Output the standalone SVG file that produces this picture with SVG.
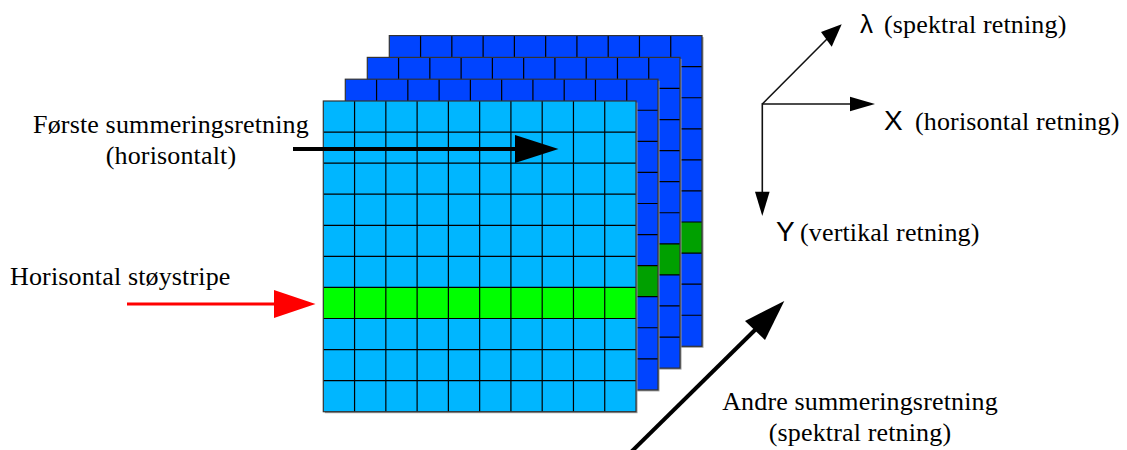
<svg xmlns="http://www.w3.org/2000/svg" width="1127" height="450" viewBox="0 0 1127 450">
  <style>
    .lbl { font-family: "Liberation Serif", "Times New Roman", serif; font-size: 26px; letter-spacing: 0.15px; fill: #000; }
    .sym { font-family: "Liberation Sans", Arial, sans-serif; font-size: 28px; fill: #000; }
    .grid { fill: none; stroke: #000; stroke-width: 1.2; }
    .frame { fill: none; stroke: #333; stroke-width: 1.2; }
    .shadow { fill: #9a9a9a; }
    .front { fill: #00b6ff; }
    .back { fill: #0044ff; }
    .hot-front { fill: #00ff00; }
    .hot-back { fill: #00a000; }
    .axis { stroke: #111; stroke-width: 1.6; fill: none; }
    .head { fill: #000; }
  </style>
  <defs>
    <!-- 10 x 10 cell grid, cell 31.27 x 31.07 -->
    <path id="cells" class="grid" d="M31.27 0V310.7M62.54 0V310.7M93.81 0V310.7M125.08 0V310.7M156.35 0V310.7M187.62 0V310.7M218.89 0V310.7M250.16 0V310.7M281.43 0V310.7
      M0 31.07H312.7M0 62.14H312.7M0 93.21H312.7M0 124.28H312.7M0 155.35H312.7M0 186.42H312.7M0 217.49H312.7M0 248.56H312.7M0 279.63H312.7"/>
  </defs>

  <!-- spectral band 4 (rearmost) -->
  <g id="band4" transform="translate(389.3 35.6)">
    <rect class="shadow" x="1.5" y="1.5" width="312.7" height="310.7"/>
    <rect class="back" width="312.7" height="310.7"/>
    <rect class="hot-back" y="186.42" width="312.7" height="31.07"/>
    <use href="#cells"/>
    <rect class="frame" width="312.7" height="310.7"/>
  </g>

  <!-- spectral band 3 -->
  <g id="band3" transform="translate(367.3 57.4)">
    <rect class="shadow" x="1.5" y="1.5" width="312.7" height="310.7"/>
    <rect class="back" width="312.7" height="310.7"/>
    <rect class="hot-back" y="186.42" width="312.7" height="31.07"/>
    <use href="#cells"/>
    <rect class="frame" width="312.7" height="310.7"/>
  </g>

  <!-- spectral band 2 -->
  <g id="band2" transform="translate(345.3 79.2)">
    <rect class="shadow" x="1.5" y="1.5" width="312.7" height="310.7"/>
    <rect class="back" width="312.7" height="310.7"/>
    <rect class="hot-back" y="186.42" width="312.7" height="31.07"/>
    <use href="#cells"/>
    <rect class="frame" width="312.7" height="310.7"/>
  </g>

  <!-- spectral band 1 (front) -->
  <g id="band1" transform="translate(323.3 101)">
    <rect class="shadow" x="1.5" y="1.5" width="312.7" height="310.7"/>
    <rect class="front" width="312.7" height="310.7"/>
    <rect class="hot-front" y="186.42" width="312.7" height="31.07"/>
    <use href="#cells"/>
    <rect class="frame" width="312.7" height="310.7"/>
  </g>

  <!-- labels -->
  <g id="label-first">
    <text class="lbl" x="171" y="133" text-anchor="middle">Første summeringsretning</text>
    <text class="lbl" x="171" y="164" text-anchor="middle">(horisontalt)</text>
  </g>
  <g id="label-stripe">
    <text class="lbl" x="10" y="285">Horisontal støystripe</text>
  </g>
  <g id="label-second">
    <text class="lbl" x="860" y="410" text-anchor="middle">Andre summeringsretning</text>
    <text class="lbl" x="860" y="441" text-anchor="middle">(spektral retning)</text>
  </g>
  <g id="axis-lambda">
    <text class="sym" x="860" y="33" style="font-size:26px">λ</text>
    <text class="lbl" x="884" y="33">(spektral retning)</text>
  </g>
  <g id="axis-x">
    <text class="sym" x="884" y="130">X</text>
    <text class="lbl" x="915" y="130">(horisontal retning)</text>
  </g>
  <g id="axis-y">
    <text class="sym" x="776" y="241">Y</text>
    <text class="lbl" x="800" y="241">(vertikal retning)</text>
  </g>

  <!-- connectors -->
  <g id="connectors">
    <!-- first summing direction -->
    <line x1="293" y1="149" x2="518" y2="149" stroke="#000" stroke-width="4"/>
    <polygon class="head" points="558.5,149 515,135 515,163"/>
    <!-- noise stripe pointer -->
    <line x1="127" y1="304" x2="276" y2="304" stroke="#ff0000" stroke-width="3"/>
    <polygon points="315.5,304 274,290 274,318" fill="#ff0000"/>
    <!-- second summing direction -->
    <line x1="625" y1="458" x2="757" y2="328" stroke="#000" stroke-width="4"/>
    <polygon class="head" points="784.3,301 745,321 765,340"/>
    <!-- axes -->
    <line class="axis" x1="762.3" y1="104" x2="828" y2="38"/>
    <polygon class="head" points="841.7,24.3 821,32 831.7,46.7"/>
    <line class="axis" x1="762.3" y1="104" x2="852" y2="104"/>
    <polygon class="head" points="875,104 850,96.7 850,111.3"/>
    <line class="axis" x1="762.3" y1="103.2" x2="762.3" y2="194"/>
    <polygon class="head" points="762.3,216 755,191.7 769.6,191.7"/>
  </g>
</svg>
